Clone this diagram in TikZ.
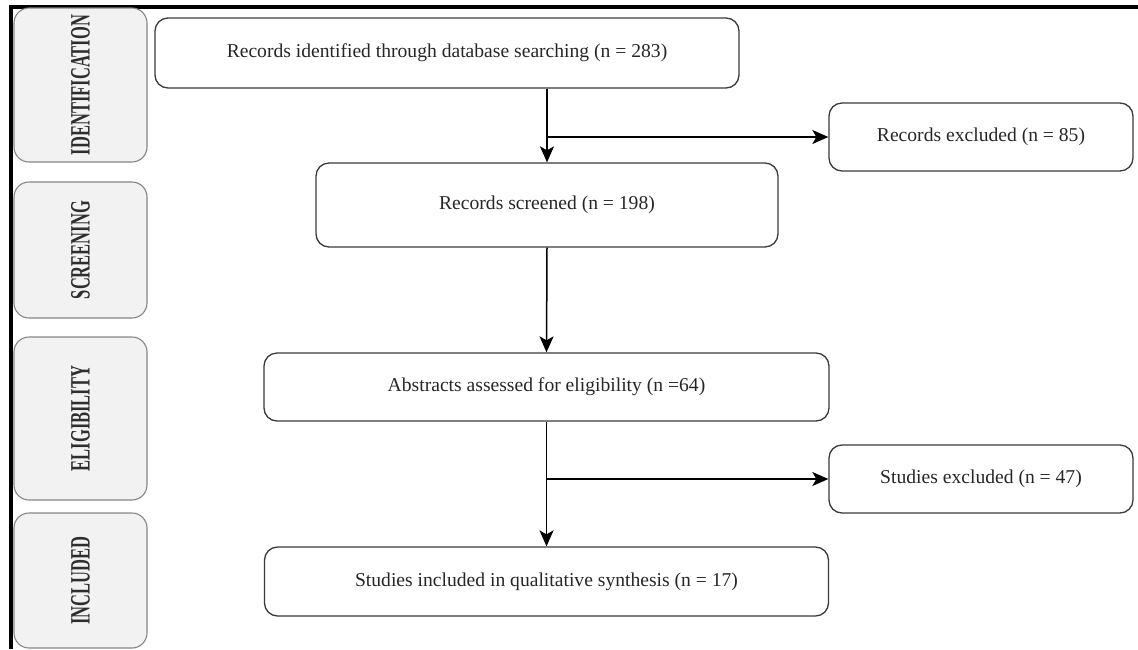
\documentclass[tikz,border=0pt]{standalone}
\usepackage{fontspec}
\setmainfont{Liberation Serif}
\usetikzlibrary{arrows.meta}

\definecolor{stagefill}{HTML}{F2F2F2}
\definecolor{stageline}{HTML}{858585}
\definecolor{stagetext}{HTML}{2E2E2E}
\definecolor{boxline}{HTML}{3A3A3A}

\newcommand{\stagename}[1]{\rotatebox{90}{\scalebox{0.59}[1]{\fontsize{28}{30}\selectfont\bfseries #1}}}

\begin{document}
\begin{tikzpicture}[x=1pt, y=-1pt,
    stage/.style={rounded corners=15pt, draw=stageline, fill=stagefill, line width=1.1pt,
                  text=stagetext, inner sep=0pt, minimum width=133pt},
    box/.style={rounded corners=13pt, draw=boxline, line width=1.3pt, inner sep=0pt,
                font=\fontsize{19.6}{22}\selectfont, text=black!85},
    flow/.style={line width=1.5pt, -{Stealth[length=16pt, width=14pt, inset=4pt]}}]
    \useasboundingbox (0,0) rectangle (1138,649);

    % frame
    \draw[line width=4pt] (10.5,649) |- (1138,6.5);

    %-----

    \node (I) at (80.5, 85) [stage, minimum height=154pt] {\stagename{IDENTIFICATION}};
    \node (S) at (80.5, 250) [stage, minimum height=136pt] {\stagename{SCREENING}};
    \node (E) at (80.5, 418.5) [stage, minimum height=163pt] {\stagename{ELIGIBILITY}};
    \node (N) at (80.5, 580.5) [stage, minimum height=135pt] {\stagename{INCLUDED}};

    %-----

    \node (A) at (447, 53) [box, minimum width=584pt, minimum height=70pt] {Records identified through database searching (n = 283)};
    \node (B) at (547, 205) [box, minimum width=462pt, minimum height=84pt] {Records screened (n = 198)};
    \node (C) at (546.5, 387) [box, minimum width=565pt, minimum height=68pt] {Abstracts assessed for eligibility (n =64)};
    \node (D) at (546.5, 581.5) [box, minimum width=564pt, minimum height=69pt] {Studies included in qualitative synthesis (n = 17)};

    \node (R) at (981, 137) [box, minimum width=304pt, minimum height=68pt] {Records excluded (n = 85)};
    \node (X) at (981, 479) [box, minimum width=304pt, minimum height=68pt] {Studies excluded (n = 47)};

    \coordinate (J1) at (547, 137);
    \coordinate (J2) at (547, 479);

    %-----

    \draw[flow] (A.south -| B.north) -- (B.north);
    \draw[flow] (B.south) -- (C.north);
    \draw[flow] (C.south) -- (D.north);
    \draw[flow] (J1) -- (R.west);
    \draw[flow] (J2) -- (X.west);
\end{tikzpicture}
\end{document}
